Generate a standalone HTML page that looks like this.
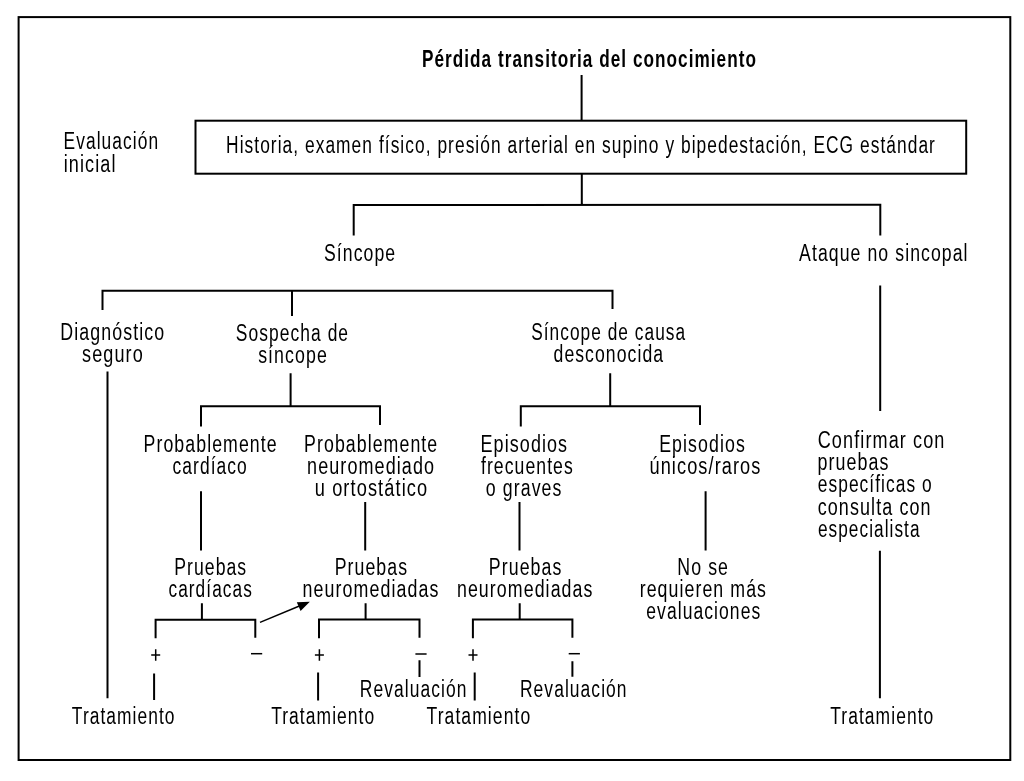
<!DOCTYPE html><html><head><meta charset="utf-8"><style>html,body{margin:0;padding:0;background:#fff;width:1024px;height:781px;overflow:hidden}svg{display:block;will-change:transform}text{font-family:"Liberation Sans",sans-serif;font-size:23px;fill:#000;letter-spacing:1.4px}</style></head><body>
<svg width="1024" height="781" viewBox="0 0 1024 781">
<rect x="0" y="0" width="1024" height="781" fill="#fff"/>
<rect x="18.6" y="17.1" width="991.7" height="742.9" fill="none" stroke="#000" stroke-width="2.0"/>
<rect x="195.5" y="120.7" width="770.7" height="53.0" fill="none" stroke="#000" stroke-width="2.0"/>
<path d="M581.6 75L581.6 121M581.8 173.7L581.8 205M353.7 235.6L353.7 205.1L880.3 204.8L880.3 235.6M102.5 310L102.5 290.8L612.5 290.8L612.5 309M292 290.8L292 316M107.5 371.6L107.5 698.2M290.6 373.3L290.6 406.2M201 426.6L201 406.2L380 406.2L380 424.9M610.2 373.3L610.2 406.2M520.8 426.6L520.8 406.2L700 406.2L700 424.9M880.2 285.4L880.2 411.1M201 491.2L201 550.5M365.2 502.1L365.2 550.5M519.5 502.1L519.5 550.5M705.6 491.2L705.6 550.5M879.9 550.8L879.9 698.2M201.9 603.2L201.9 619.7M155.6 638.3L155.6 619.7L255.3 619.7L255.3 637.8M154.1 673.5L154.1 700M365.6 603.2L365.6 619.5M319 638.3L319 619.5L419.5 619.5L419.5 637.8M318.1 672.6L318.1 700.4M419.5 660.3L419.5 677M519.7 603.2L519.7 619.5M472.9 638.3L472.9 619.5L572.4 619.5L572.4 637.8M474.7 672.6L474.7 700.4M572.4 661.2L572.4 676.7" stroke="#000" stroke-width="2.0" fill="none" stroke-linejoin="miter"/>
<path d="M151.20000000000002 655H160.20000000000002M155.70000000000002 649.3V660.7" stroke="#000" stroke-width="1.5" fill="none"/>
<path d="M314.9 655H323.9M319.4 649.3V660.7" stroke="#000" stroke-width="1.5" fill="none"/>
<path d="M468.5 655H477.5M473.0 649.3V660.7" stroke="#000" stroke-width="1.5" fill="none"/>
<path d="M251.00000000000003 653.6999999999999H262.20000000000005" stroke="#000" stroke-width="1.5" fill="none"/>
<path d="M415.4 654.0H426.6" stroke="#000" stroke-width="1.5" fill="none"/>
<path d="M568.6999999999999 653.6999999999999H579.9" stroke="#000" stroke-width="1.5" fill="none"/>
<path d="M260 622.4L300 605.8" stroke="#000" stroke-width="1.5"/>
<path d="M309.8 601.8L296.8 602.2L300.6 611Z" fill="#000"/>
<text x="421.94" y="67.40" font-weight="bold" textLength="335.05" lengthAdjust="spacingAndGlyphs">Pérdida transitoria del conocimiento</text>
<text x="63.62" y="149.00" textLength="95.49" lengthAdjust="spacingAndGlyphs">Evaluación</text>
<text x="63.65" y="172.00" textLength="52.87" lengthAdjust="spacingAndGlyphs">inicial</text>
<text x="226.07" y="152.90" textLength="709.86" lengthAdjust="spacingAndGlyphs">Historia, examen físico, presión arterial en supino y bipedestación, ECG estándar</text>
<text x="324.03" y="261.00" textLength="72.18" lengthAdjust="spacingAndGlyphs">Síncope</text>
<text x="799.12" y="260.90" textLength="169.48" lengthAdjust="spacingAndGlyphs">Ataque no sincopal</text>
<text x="60.32" y="339.90" textLength="104.86" lengthAdjust="spacingAndGlyphs">Diagnóstico</text>
<text x="82.08" y="361.80" textLength="61.79" lengthAdjust="spacingAndGlyphs">seguro</text>
<text x="235.85" y="341.00" textLength="113.26" lengthAdjust="spacingAndGlyphs">Sospecha de</text>
<text x="258.15" y="363.00" textLength="69.76" lengthAdjust="spacingAndGlyphs">síncope</text>
<text x="531.17" y="339.50" textLength="155.02" lengthAdjust="spacingAndGlyphs">Síncope de causa</text>
<text x="553.52" y="361.50" textLength="110.62" lengthAdjust="spacingAndGlyphs">desconocida</text>
<text x="143.57" y="451.80" textLength="134.12" lengthAdjust="spacingAndGlyphs">Probablemente</text>
<text x="172.54" y="474.00" textLength="75.27" lengthAdjust="spacingAndGlyphs">cardíaco</text>
<text x="304.08" y="451.80" textLength="134.17" lengthAdjust="spacingAndGlyphs">Probablemente</text>
<text x="307.04" y="474.00" textLength="128.11" lengthAdjust="spacingAndGlyphs">neuromediado</text>
<text x="314.76" y="496.00" textLength="113.45" lengthAdjust="spacingAndGlyphs">u ortostático</text>
<text x="480.57" y="451.80" textLength="87.61" lengthAdjust="spacingAndGlyphs">Episodios</text>
<text x="480.95" y="474.00" textLength="92.92" lengthAdjust="spacingAndGlyphs">frecuentes</text>
<text x="485.84" y="496.00" textLength="76.65" lengthAdjust="spacingAndGlyphs">o graves</text>
<text x="659.19" y="451.80" textLength="86.64" lengthAdjust="spacingAndGlyphs">Episodios</text>
<text x="649.44" y="474.00" textLength="112.05" lengthAdjust="spacingAndGlyphs">únicos/raros</text>
<text x="817.71" y="448.00" textLength="127.77" lengthAdjust="spacingAndGlyphs">Confirmar con</text>
<text x="817.47" y="470.10" textLength="72.02" lengthAdjust="spacingAndGlyphs">pruebas</text>
<text x="817.73" y="492.40" textLength="115.08" lengthAdjust="spacingAndGlyphs">específicas o</text>
<text x="817.69" y="514.60" textLength="113.94" lengthAdjust="spacingAndGlyphs">consulta con</text>
<text x="817.95" y="536.50" textLength="102.61" lengthAdjust="spacingAndGlyphs">especialista</text>
<text x="174.18" y="574.50" textLength="73.07" lengthAdjust="spacingAndGlyphs">Pruebas</text>
<text x="168.46" y="596.70" textLength="84.41" lengthAdjust="spacingAndGlyphs">cardíacas</text>
<text x="334.67" y="574.50" textLength="73.50" lengthAdjust="spacingAndGlyphs">Pruebas</text>
<text x="302.61" y="596.70" textLength="136.81" lengthAdjust="spacingAndGlyphs">neuromediadas</text>
<text x="488.85" y="574.50" textLength="73.55" lengthAdjust="spacingAndGlyphs">Pruebas</text>
<text x="456.94" y="596.70" textLength="136.58" lengthAdjust="spacingAndGlyphs">neuromediadas</text>
<text x="677.33" y="574.50" textLength="51.71" lengthAdjust="spacingAndGlyphs">No se</text>
<text x="639.68" y="596.90" textLength="127.39" lengthAdjust="spacingAndGlyphs">requieren más</text>
<text x="646.30" y="618.50" textLength="115.00" lengthAdjust="spacingAndGlyphs">evaluaciones</text>
<text x="359.84" y="697.20" textLength="107.56" lengthAdjust="spacingAndGlyphs">Revaluación</text>
<text x="519.94" y="697.20" textLength="107.66" lengthAdjust="spacingAndGlyphs">Revaluación</text>
<text x="71.87" y="724.00" textLength="103.74" lengthAdjust="spacingAndGlyphs">Tratamiento</text>
<text x="271.17" y="724.00" textLength="104.13" lengthAdjust="spacingAndGlyphs">Tratamiento</text>
<text x="426.50" y="724.00" textLength="104.75" lengthAdjust="spacingAndGlyphs">Tratamiento</text>
<text x="830.21" y="724.10" textLength="104.14" lengthAdjust="spacingAndGlyphs">Tratamiento</text>
</svg></body></html>
